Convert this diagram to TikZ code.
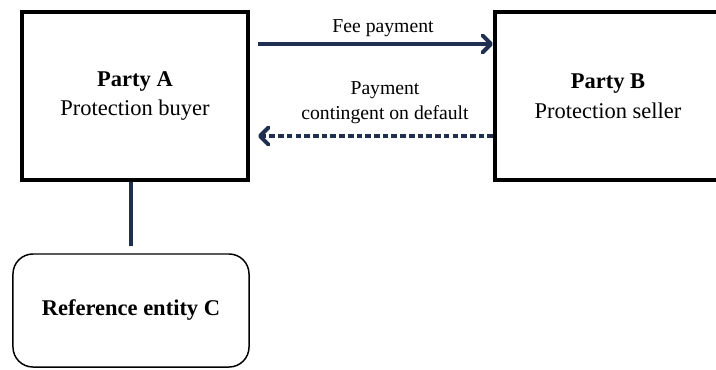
\documentclass[tikz,border=0pt]{standalone}
\usepackage{fontspec}
\setmainfont{Liberation Serif}
\usepackage{tikz}
\usetikzlibrary{arrows.meta}
\usetikzlibrary{positioning}

\definecolor{navy}{HTML}{1F2F4F}

\tikzset{
    party/.style={draw=black,line width=2.8pt,minimum width=5.65cm,minimum height=4.2cm,
        align=center,font=\fontsize{16}{21}\selectfont},
    entity/.style={draw=black,line width=1.05pt,rounded corners=0.5cm,minimum width=5.9cm,
        minimum height=2.825cm,align=center,font=\fontsize{16}{21}\selectfont\bfseries},
    flowlabel/.style={align=center,font=\fontsize{14}{17.7}\selectfont},
    flow/.style={navy,line width=2.8pt},
    barb/.tip={Straight Barb[length=6pt,width=12pt,line cap=round,line join=round]}
}

\begin{document}
\begin{tikzpicture}[x=0.025cm,y=-0.025cm,>=barb]
    \useasboundingbox (0,0) rectangle (716,369);

    % Draw parties
    \node [party] (partyA) at (135,96) {\textbf{Party A}\\Protection buyer};
    \node [party] (partyB) at (608,96) {\textbf{Party B}\\Protection seller};
    \node [entity] (refC) at (131,310.5) {Reference entity C};

    % flows between the parties
    \node [flowlabel] (feeLabel) at (383,28) {Fee payment};
    \node [flowlabel] (contLabel) at (385,102.5) {Payment\\contingent on default};
    \draw [flow,->] ([xshift=0.2cm,yshift=1.3cm]partyA.east) -- ([yshift=1.3cm]partyB.west);
    \draw [flow,->,dash pattern=on 4pt off 2.2pt] ([yshift=-1cm]partyB.west)
        -- ([xshift=0.2cm,yshift=-1cm]partyA.east);

    % link to reference entity
    \draw [flow,shorten >=0.175cm] (refC.north |- partyA.south) -- (refC.north);
\end{tikzpicture}
\end{document}
